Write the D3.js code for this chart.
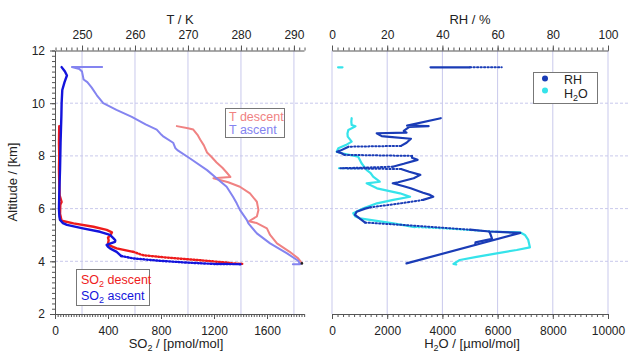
<!DOCTYPE html>
<html>
<head>
<meta charset="utf-8">
<script src="https://cdn.jsdelivr.net/npm/d3@7"></script>
<style>
  body { margin: 0; background: #fff; }
  svg { font-family: "Liberation Sans", Arial, sans-serif; }
</style>
</head>
<body>
<svg id="chart" width="628" height="353"></svg>
<script>
// [altitude km, value]
const so2Descent = [[9.13,32],[8.5,30],[8.0,32],[7.5,30],[7.0,32],[6.5,35],[6.25,50],[6.15,40],[5.8,38],[5.54,50],[5.44,140],[5.31,290],[5.19,390],[5.1,430],[5.0,420],[4.9,400],[4.8,405],[4.68,400],[4.6,410],[4.49,465],[4.36,590],[4.23,665],[4.14,845],[4.04,1095],[3.95,1300],[3.92,1345],[3.9,1420]];
const so2Ascent = [[11.37,50],[11.2,75],[11.05,90],[10.8,72],[10.5,55],[10.0,50],[9.5,48],[9.0,45],[8.5,42],[8.0,40],[7.5,38],[7.0,35],[6.5,32],[6.0,30],[5.7,33],[5.57,38],[5.45,60],[5.38,90],[5.25,210],[5.12,340],[5.0,415],[4.88,440],[4.8,455],[4.74,453],[4.68,420],[4.62,390],[4.55,400],[4.49,415],[4.36,465],[4.2,500],[4.11,590],[4.02,790],[3.95,995],[3.9,1200],[3.89,1400]];
const tDescent = [[9.13,267.9],[9.05,270],[9.0,271],[8.8,271.8],[8.62,272.3],[8.4,273],[8.13,273.6],[7.95,274.5],[7.75,275.4],[7.55,276.5],[7.37,277.3],[7.2,278],[7.15,274.8],[7.0,277.6],[6.83,279.8],[6.58,281.7],[6.26,283],[5.95,283.3],[5.7,283],[5.52,281.5],[5.45,283],[5.25,284.9],[5.0,285.5],[4.68,286.8],[4.36,289.2],[4.11,290.8],[3.93,291.5]];
const tAscent = [[11.37,253.8],[11.37,248.1],[11.3,249.5],[11.2,250],[11.0,250.2],[10.9,250.3],[10.8,251],[10.6,251.8],[10.3,252.8],[10.0,254],[9.75,256.5],[9.48,259.4],[9.2,262],[9.0,264.1],[8.8,265],[8.73,265.4],[8.5,267.2],[8.3,267.6],[8.22,268],[7.9,270.4],[7.46,273.6],[7.15,275.4],[6.83,277.3],[6.45,278.5],[6.2,279.2],[5.95,279.8],[5.57,281.1],[5.44,281.4],[5.06,283],[4.68,285.5],[4.3,288.7],[4.02,290.8],[3.89,291.2],[3.89,289.8]];

const rhSolid = [
  [[11.36,35.7],[11.36,50]],
  [[9.43,39.4],[9.15,27.2],[9.13,35],[9.1,28],[8.95,26],[8.88,27],[8.86,16.2],[8.75,18],[8.73,19.8],[8.65,28.6],[8.5,27],[8.38,25]],
  [[8.35,6],[8.2,3],[8.16,1.8],[8.1,3.5],[8.04,4.5]],
  [[8.0,29],[7.93,29],[7.85,31],[7.7,26],[7.59,22]],
  [[7.5,25],[7.4,28],[7.28,32],[7.15,29.6],[7.0,24],[6.96,22],[6.85,26],[6.77,28.5],[6.6,33],[6.52,35.5],[6.45,36.7],[6.33,33]],
  [[6.05,14],[6.0,12],[5.88,8.9],[5.76,8.3],[5.57,10.7],[5.47,12]],
  [[5.2,50],[5.13,57],[5.08,68.2],[3.92,27]],
  [[5.13,57],[5.0,57.5],[4.85,58],[4.72,52],[4.62,51.9]]
];
const rhDotted = [
  [[11.36,50],[11.36,61.5]],
  [[8.38,25],[8.35,6]],
  [[8.04,4.5],[8.0,29]],
  [[7.59,22],[7.53,3],[7.5,25]],
  [[6.33,33],[6.2,25],[6.05,14]],
  [[5.47,12],[5.35,30],[5.2,50]]
];
const h2oSolid = [
  [[11.36,220],[11.36,380]],
  [[9.43,713],[9.3,700],[9.17,713],[9.12,850],[8.98,592],[8.85,560],[8.73,570],[8.54,713],[8.41,500],[8.29,230],[8.16,170],[8.1,350],[7.97,950],[7.72,1070],[7.47,1250],[7.35,1400],[7.21,1490],[7.02,1730],[6.96,1256],[6.77,1630],[6.58,2460],[6.45,2830],[6.33,2220],[6.2,1630],[6.01,1140],[5.82,770],[5.7,850],[5.63,1010],[5.44,2220],[5.3,3000]],
  [[5.12,5970],[5.1,6810],[5.0,6990],[4.81,7110],[4.53,7170],[4.43,6690],[4.3,5970],[4.17,5240],[4.05,4630],[3.9,4400],[3.88,4500]]
];
const h2oDotted = [
  [[7.53,250],[7.53,1100]],
  [[5.3,3000],[5.25,4030],[5.12,5970]]
];

const altTicks = [2, 4, 6, 8, 10, 12];
const tTicks = [250, 260, 270, 280, 290];
const so2Ticks = [0, 400, 800, 1200, 1600];
const rhTicks = [0, 20, 40, 60, 80, 100];
const h2oTicks = [0, 2000, 4000, 6000, 8000, 10000];

const svg = d3.select("#chart");
const L = { x0: 55, x1: 304 }, R = { x0: 332, x1: 608 };
const yTop = 50.5, yBottom = 314;
const gridColor = "#c9c9ec";

const y = d3.scaleLinear().domain([2, 12]).range([yBottom, yTop]);
const xT = d3.scaleLinear().domain([244.9, 291.9]).range([L.x0, L.x1]);
const xSO2 = d3.scaleLinear().domain([0, 1879]).range([L.x0, L.x1]);
const xRH = d3.scaleLinear().domain([0, 100]).range([R.x0, R.x1]);
const xH2O = d3.scaleLinear().domain([0, 10000]).range([R.x0, R.x1]);

// grid
const grid = svg.append("g");
grid.selectAll(".hg").data(altTicks.filter(d => d > 2 && d < 12)).join("line")
  .attr("x1", L.x0).attr("x2", 628).attr("y1", d => y(d)).attr("y2", d => y(d))
  .attr("stroke", gridColor).attr("stroke-dasharray", "3,2");
grid.selectAll(".vt").data(tTicks).join("line")
  .attr("x1", d => xT(d)).attr("x2", d => xT(d)).attr("y1", yTop).attr("y2", yBottom)
  .attr("stroke", gridColor);
grid.selectAll(".vr").data(rhTicks).join("line")
  .attr("x1", d => xRH(d)).attr("x2", d => xRH(d)).attr("y1", yTop).attr("y2", yBottom)
  .attr("stroke", gridColor);

function range(a, b, s) { return d3.range(a, b + s / 2, s); }

function axis(gen, scale, major, minorStep, tx, ty, pad, fmt) {
  const g = svg.append("g").attr("transform", `translate(${tx},${ty})`);
  const d = scale.domain();
  g.call(gen(scale).tickValues(range(Math.ceil(d[0] / minorStep) * minorStep, d[1], minorStep))
    .tickSize(3).tickSizeOuter(0).tickFormat(""));
  const g2 = svg.append("g").attr("transform", `translate(${tx},${ty})`);
  g2.call(gen(scale).tickValues(major).tickSize(5).tickSizeOuter(0).tickPadding(pad).tickFormat(fmt || d3.format("d")));
  [g, g2].forEach(s => {
    s.selectAll("path,line").attr("stroke", "#555");
    s.selectAll("text").attr("fill", "#222").style("font-size", "12px").style("font-family", "'Liberation Sans', Arial, sans-serif");
  });
  g2.select("path").remove();
}
axis(d3.axisLeft, y, altTicks, 0.2, L.x0, 0, 5);
axis(d3.axisTop, xT, tTicks, 1, 0, yTop, 7);
axis(d3.axisBottom, xSO2, so2Ticks, 20, 0, yBottom, 7);
axis(d3.axisTop, xRH, rhTicks, 2, 0, yTop, 7);
axis(d3.axisBottom, xH2O, h2oTicks, 200, 0, yBottom, 7);

// series
function drawLine(data, xs, color, width, dash) {
  svg.append("path").datum(data)
    .attr("d", d3.line().x(d => xs(d[1])).y(d => y(d[0])))
    .attr("fill", "none").attr("stroke", color).attr("stroke-width", width)
    .attr("stroke-linejoin", "round").attr("stroke-linecap", "round")
    .attr("stroke-dasharray", dash || null);
}
function drawSplit(data, xs, color, width, cut) {
  const i = data.findIndex(d => d[0] < cut);
  drawLine(data.slice(0, i), xs, color, width);
  drawLine(data.slice(i - 1), xs, color, width, "1.2,2");
}

drawLine(tDescent, xT, "#f08282", 2);
drawLine(tAscent, xT, "#8484f0", 2);
drawSplit(so2Descent, xSO2, "#ee1c1c", 2.4, 4.25);
drawSplit(so2Ascent, xSO2, "#1414dc", 2.4, 4.2);
svg.append("circle").attr("cx", xT(291.5)).attr("cy", y(3.92)).attr("r", 1.3).attr("fill", "#222");

const blue = "#1a3cb6", cyan = "#35e3ea";
h2oSolid.forEach(p => drawLine(p, xH2O, cyan, 2.2));
h2oDotted.forEach(p => drawLine(p, xH2O, cyan, 2, "1.3,2.2"));
rhSolid.forEach(p => drawLine(p, xRH, blue, 2.2));
rhDotted.forEach(p => drawLine(p, xRH, blue, 2, "1.3,2.2"));

// titles
function title(x, yy, rot) {
  const t = svg.append("text").attr("text-anchor", "middle").attr("fill", "#222").style("font-size", "13px");
  if (rot) t.attr("transform", `translate(${x},${yy}) rotate(-90)`); else t.attr("x", x).attr("y", yy);
  return t;
}
title(180, 24).text("T / K");
title(470, 24).text("RH / %");
title(17, 182, true).text("Altitude / [km]");
const s1 = title(176, 348);
s1.append("tspan").text("SO");
s1.append("tspan").attr("dy", 3).style("font-size", "9px").text("2");
s1.append("tspan").attr("dy", -3).text(" / [pmol/mol]");
const s2 = title(472, 348);
s2.append("tspan").text("H");
s2.append("tspan").attr("dy", 3).style("font-size", "9px").text("2");
s2.append("tspan").attr("dy", -3).text("O / [µmol/mol]");

// legends
function box(x, yy, w, h) {
  svg.append("rect").attr("x", x).attr("y", yy).attr("width", w).attr("height", h)
    .attr("fill", "#fff").attr("stroke", "#777").attr("stroke-width", 1);
}
// parts: plain strings, or ["2"] for a subscript
function legText(x, yy, color, parts) {
  const t = svg.append("text").attr("x", x).attr("y", yy).attr("fill", color).style("font-size", "12.5px");
  let shifted = false;
  parts.forEach(p => {
    if (Array.isArray(p)) {
      t.append("tspan").attr("dy", 3).style("font-size", "9px").text(p[0]);
      shifted = true;
    } else {
      t.append("tspan").attr("dy", shifted ? -3 : null).text(p);
      shifted = false;
    }
  });
}
box(225.5, 108.5, 59, 29);
legText(229, 121, "#f08282", ["T descent"]);
legText(229, 134, "#8484f0", ["T ascent"]);

box(76.5, 269.5, 73, 36);
legText(81, 284, "#ee1c1c", ["SO", ["2"], " descent"]);
legText(81, 300, "#1414dc", ["SO", ["2"], " ascent"]);

box(533.5, 72.5, 64, 31);
svg.append("circle").attr("cx", 545).attr("cy", 78.5).attr("r", 3).attr("fill", blue);
svg.append("circle").attr("cx", 545).attr("cy", 90.5).attr("r", 3).attr("fill", cyan);
legText(564, 84, "#222", ["RH"]);
legText(564, 98, "#222", ["H", ["2"], "O"]);
</script>
</body>
</html>
